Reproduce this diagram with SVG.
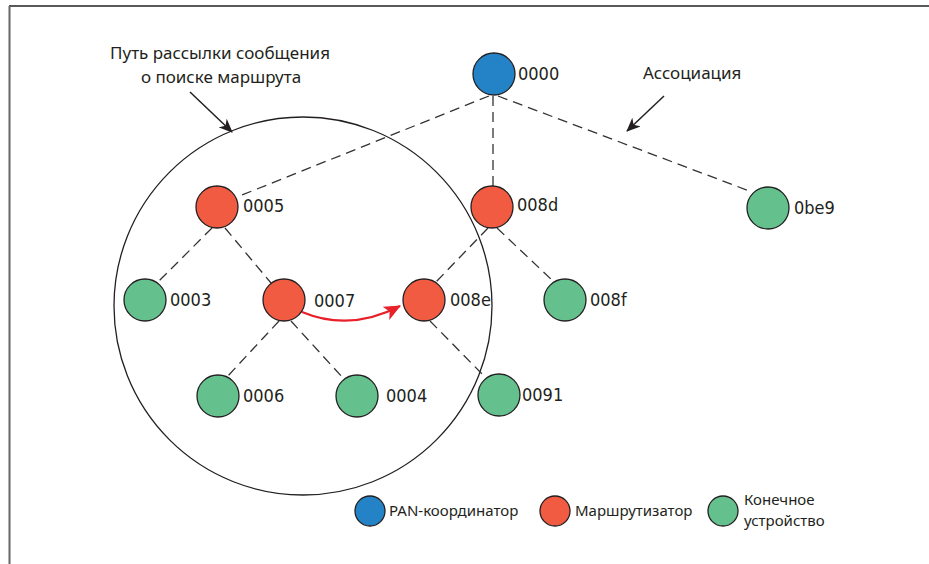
<svg xmlns="http://www.w3.org/2000/svg" width="929" height="564" viewBox="0 0 929 564">
<defs>
<style>
.node{stroke:#231f20;stroke-width:1.3}
.pan{fill:#2482c6}
.rt{fill:#f15b42}
.ed{fill:#64c18e}
.lbl{font-family:'DejaVu Sans Condensed','DejaVu Sans',sans-serif;font-stretch:condensed;font-size:18px;fill:#231f20}
.txt{font-family:'Noto Sans','Open Sans',sans-serif;font-size:17px;fill:#231f20}
.leg{font-family:'Noto Sans','Open Sans',sans-serif;font-size:15px;fill:#231f20}
.dash{stroke:#333;stroke-width:1.3;stroke-dasharray:10 6;fill:none}
</style>
<marker id="ab" viewBox="0 0 14 12" refX="13" refY="6" markerWidth="14" markerHeight="12" markerUnits="userSpaceOnUse" orient="auto">
<path d="M0,0 L14,6 L0,12 L4,6 Z" fill="#231f20"/>
</marker>
<marker id="ar" viewBox="0 0 16 14" refX="15" refY="7" markerWidth="17" markerHeight="15" markerUnits="userSpaceOnUse" orient="auto">
<path d="M0,0 L16,7 L0,14 L4,7 Z" fill="#e8202a"/>
</marker>
</defs>
<rect width="929" height="564" fill="#fff"/>
<g id="frame">
<line x1="9" y1="6" x2="929" y2="6" stroke="#222" stroke-width="1.6"/>
<line x1="9.5" y1="6" x2="9.5" y2="564" stroke="#666" stroke-width="2"/>
</g>
<g id="region">
<circle cx="303" cy="306" r="189" fill="none" stroke="#231f20" stroke-width="1.3"/>
</g>
<g id="connectors">
<line class="dash" x1="489" y1="96" x2="237" y2="197"/>
<line class="dash" x1="493" y1="96" x2="493" y2="186"/>
<line class="dash" x1="498" y1="96" x2="752" y2="192"/>
<line class="dash" x1="212" y1="228" x2="158" y2="282"/>
<line class="dash" x1="225" y1="228" x2="271" y2="283"/>
<line class="dash" x1="488" y1="228" x2="436" y2="282"/>
<line class="dash" x1="497" y1="228" x2="553" y2="281"/>
<line class="dash" x1="279" y1="321" x2="226" y2="378"/>
<line class="dash" x1="291" y1="321" x2="343" y2="378"/>
<line class="dash" x1="430" y1="321" x2="486" y2="378"/>
<path d="M302,312 Q350,332 400,306" fill="none" stroke="#e8202a" stroke-width="2.2" marker-end="url(#ar)"/>
<line x1="190" y1="92" x2="232" y2="132" stroke="#231f20" stroke-width="1.5" marker-end="url(#ab)"/>
<line x1="664" y1="96" x2="627" y2="131" stroke="#231f20" stroke-width="1.5" marker-end="url(#ab)"/>
</g>
<g id="n0000"><circle class="node pan" cx="494" cy="74" r="21"/><text class="lbl" x="518" y="80">0000</text></g>
<g id="n0005"><circle class="node rt" cx="217" cy="207" r="21"/><text class="lbl" x="243" y="212">0005</text></g>
<g id="n008d"><circle class="node rt" cx="492" cy="207" r="21"/><text class="lbl" x="517" y="211">008d</text></g>
<g id="n0be9"><circle class="node ed" cx="768" cy="208" r="21"/><text class="lbl" x="794" y="214">0be9</text></g>
<g id="n0003"><circle class="node ed" cx="145" cy="300" r="21"/><text class="lbl" x="170" y="306">0003</text></g>
<g id="n0007"><circle class="node rt" cx="284" cy="300" r="21"/><text class="lbl" x="314" y="307">0007</text></g>
<g id="n008e"><circle class="node rt" cx="424" cy="300" r="21"/><text class="lbl" x="450" y="306">008e</text></g>
<g id="n008f"><circle class="node ed" cx="565" cy="300" r="21"/><text class="lbl" x="590" y="306">008f</text></g>
<g id="n0006"><circle class="node ed" cx="218" cy="396" r="21"/><text class="lbl" x="243" y="402">0006</text></g>
<g id="n0004"><circle class="node ed" cx="357" cy="396" r="21"/><text class="lbl" x="386" y="402">0004</text></g>
<g id="n0091"><circle class="node ed" cx="499" cy="395" r="21"/><text class="lbl" x="522" y="401">0091</text></g>
<g id="labels">
<text class="txt" x="220" y="59" text-anchor="middle">Путь рассылки сообщения</text>
<text class="txt" x="221" y="83" text-anchor="middle">о поиске маршрута</text>
<text class="txt" x="643" y="79">Ассоциация</text>
</g>
<g id="legend">
<circle class="node pan" cx="370" cy="511" r="15"/>
<text class="leg" x="389" y="516">PAN-координатор</text>
<circle class="node rt" cx="555" cy="511" r="15"/>
<text class="leg" x="575" y="516">Маршрутизатор</text>
<circle class="node ed" cx="723" cy="511" r="15"/>
<text class="leg" x="744" y="505">Конечное</text>
<text class="leg" x="744" y="526">устройство</text>
</g>
</svg>
